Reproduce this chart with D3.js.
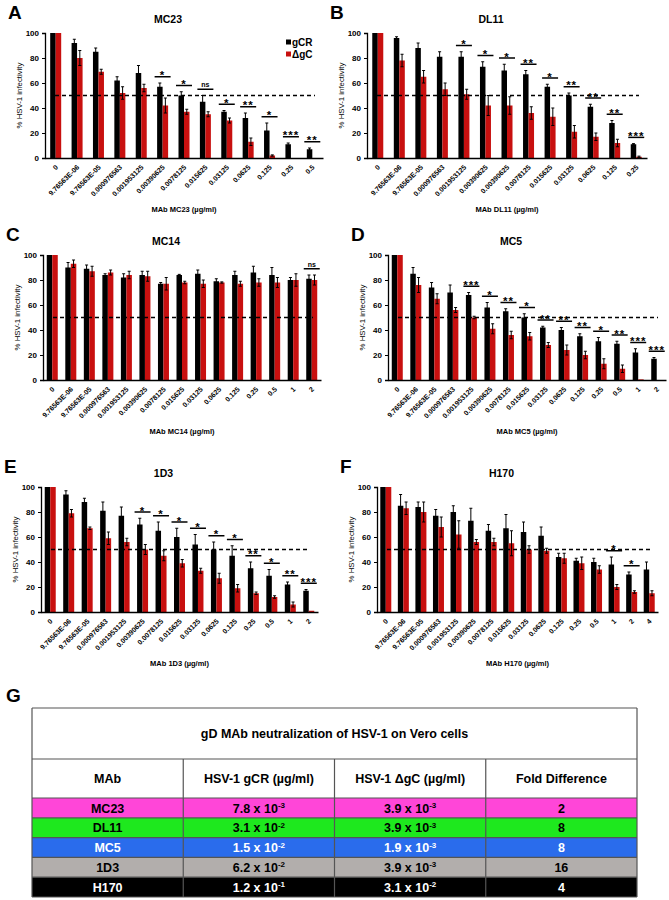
<!DOCTYPE html>
<html>
<head>
<meta charset="utf-8">
<script src="https://cdn.jsdelivr.net/npm/d3@7"></script>
<style>
  body { margin: 0; background: #fff; }
  svg text { font-family: "Liberation Sans", Arial, sans-serif; }
</style>
</head>
<body>
<svg id="fig" width="669" height="900"></svg>
<script>
// ---- dose (x) labels ----
var dosesA = ["0","9.76563E-06","9.76563E-05","0.000976563","0.001953125","0.00390625","0.0078125","0.015625","0.03125","0.0625","0.125","0.25","0.5"];
var dosesB = ["0","9.76563E-06","9.76563E-05","0.000976563","0.001953125","0.00390625","0.00390625","0.0078125","0.015625","0.03125","0.0625","0.125","0.25"];
var dosesCDE = ["0","9.76563E-06","9.76563E-05","0.000976563","0.001953125","0.00390625","0.0078125","0.015625","0.03125","0.0625","0.125","0.25","0.5","1","2"];
var dosesF = ["0","9.76563E-06","9.76563E-05","0.000976563","0.001953125","0.00390625","0.0078125","0.015625","0.03125","0.0625","0.125","0.25","0.5","1","2","4"];

// ---- MC23 ----
var mc23Gcr    = [100, 92, 85, 62, 68, 57, 50, 45, 37, 32, 22, 11, 7];
var mc23GcrErr = [0, 3, 3, 3, 6, 3, 3, 5, 1, 4, 6, 1, 1];
var mc23Dgc    = [100, 80, 69, 52, 56, 42, 37, 35, 30, 13, 2, 0, 0];
var mc23DgcErr = [0, 6, 2, 5, 3, 6, 2, 2, 2, 3, 0.5, 0, 0];
var mc23Sig    = ["","","","","","*","*","ns","*","**","*","***","**"];

// ---- DL11 ----
var dl11Gcr    = [100, 96, 88, 81, 81, 73, 70, 67, 57, 50, 41, 28, 11];
var dl11GcrErr = [0, 1, 4, 4, 4, 4, 5, 3, 2, 2, 2, 2, 0.5];
var dl11Dgc    = [100, 78, 65, 55, 51, 42, 42, 36, 33, 21, 17, 12, 1];
var dl11DgcErr = [0, 5, 5, 5, 4, 8, 7, 5, 7, 5, 3, 3, 0.5];
var dl11Sig    = ["","","","","*","*","*","**","*","**","**","**","***"];

// ---- MC14 ----
var mc14Gcr    = [100, 90, 89, 84, 82, 84, 77, 84, 85, 79, 84, 86, 84, 80, 81];
var mc14GcrErr = [0, 4, 3, 1, 3, 3, 1, 0.5, 3, 2, 3, 5, 6, 2, 3];
var mc14Dgc    = [100, 93, 87, 86, 84, 83, 77, 78, 77, 78, 77, 78, 78, 80, 80];
var mc14DgcErr = [0, 3, 4, 2, 3, 4, 5, 1, 3, 0.5, 2, 3, 4, 5, 4];
var mc14Sig    = ["","","","","","","","","","","","","","","ns"];

// ---- MC5 ----
var mc5Gcr    = [100, 85, 74, 70, 68, 58, 55, 50, 42, 40, 35, 31, 29, 22, 17];
var mc5GcrErr = [0, 5, 4, 6, 2, 4, 2, 3, 1, 2, 2, 3, 2, 3, 1];
var mc5Dgc    = [100, 76, 65, 56, 50, 41, 36, 35, 28, 24, 20, 13, 9, 0.5, 0];
var mc5DgcErr = [0, 6, 4, 2, 1, 4, 3, 3, 2, 4, 3, 4, 3, 0, 0];
var mc5Sig    = ["","","","","***","*","**","*","**","**","**","*","**","***","***"];

// ---- 1D3 ----
var d13Gcr    = [100, 94, 88, 81, 77, 70, 65, 60, 54, 50, 45, 35, 29, 22, 17];
var d13GcrErr = [0, 3, 3, 7, 7, 5, 7, 7, 8, 6, 8, 5, 5, 2, 1];
var d13Dgc    = [100, 79, 67, 59, 56, 50, 45, 39, 33, 27, 19, 15, 12, 6, 1];
var d13DgcErr = [0, 3, 1, 5, 3, 4, 4, 3, 2, 4, 3, 1, 1, 2, 0];
var d13Sig    = ["","","","","","*","*","*","*","*","*","**","*","**","***"];

// ---- H170 ----
var h170Gcr    = [100, 85, 84, 77, 80, 73, 65, 67, 64, 61, 44, 41, 40, 38, 30, 34];
var h170GcrErr = [0, 9, 4, 5, 5, 10, 5, 11, 8, 7, 3, 2, 3, 6, 2, 6];
var h170Dgc    = [100, 83, 80, 68, 62, 56, 56, 55, 50, 49, 43, 39, 34, 20, 16, 15];
var h170DgcErr = [0, 5, 8, 8, 11, 2, 3, 10, 3, 2, 4, 5, 3, 2, 1, 2];
var h170Sig    = ["","","","","","","","","","","","","","*","*",""];

// ---- table G ----
var tableTitle = "gD MAb neutralization of HSV-1 on Vero cells";
var tableHeader = ["MAb", "HSV-1 gCR (µg/ml)", "HSV-1 ΔgC (µg/ml)", "Fold Difference"];
var tableMAb  = ["MC23", "DL11", "MC5", "1D3", "H170"];
var tableGcr  = [["7.8", "-3"], ["3.1", "-2"], ["1.5", "-2"], ["6.2", "-2"], ["1.2", "-1"]];
var tableDgc  = [["3.9", "-3"], ["3.9", "-3"], ["1.9", "-3"], ["3.9", "-3"], ["3.1", "-2"]];
var tableFold = [2, 8, 8, 16, 4];
var rowFill   = ["#ff46d8", "#1ee81e", "#2a6cec", "#b2aeac", "#000000"];
var rowText   = ["#000", "#000", "#fff", "#000", "#fff"];

var BLACK = "#000000", RED = "#c8100f";

var svg = d3.select("#fig");

var panels = [
  {letter: "A", title: "MC23", doses: dosesA, gcr: mc23Gcr, gcrErr: mc23GcrErr, dgc: mc23Dgc, dgcErr: mc23DgcErr, sig: mc23Sig, x0: 45, x1: 323, top: 33, bot: 158, legend: true},
  {letter: "B", title: "DL11", doses: dosesB, gcr: dl11Gcr, gcrErr: dl11GcrErr, dgc: dl11Dgc, dgcErr: dl11DgcErr, sig: dl11Sig, x0: 367, x1: 647, top: 33, bot: 158},
  {letter: "C", title: "MC14", doses: dosesCDE, gcr: mc14Gcr, gcrErr: mc14GcrErr, dgc: mc14Dgc, dgcErr: mc14DgcErr, sig: mc14Sig, x0: 43, x1: 321, top: 255, bot: 380},
  {letter: "D", title: "MC5", doses: dosesCDE, gcr: mc5Gcr, gcrErr: mc5GcrErr, dgc: mc5Dgc, dgcErr: mc5DgcErr, sig: mc5Sig, x0: 388, x1: 666, top: 255, bot: 380},
  {letter: "E", title: "1D3", doses: dosesCDE, gcr: d13Gcr, gcrErr: d13GcrErr, dgc: d13Dgc, dgcErr: d13DgcErr, sig: d13Sig, x0: 41, x1: 318, top: 487, bot: 612},
  {letter: "F", title: "H170", doses: dosesF, gcr: h170Gcr, gcrErr: h170GcrErr, dgc: h170Dgc, dgcErr: h170DgcErr, sig: h170Sig, x0: 377, x1: 658, top: 487, bot: 612}
];

function drawPanel(p) {
  var g = svg.append("g");
  var n = p.doses.length;
  var x = d3.scaleBand().domain(d3.range(n)).range([p.x0, p.x1]).padding(0);
  var y = d3.scaleLinear().domain([0, 100]).range([p.bot, p.top]);
  var bw = 5.5;
  var cx = function(i) { return x(i) + x.bandwidth() / 2; };

  var rows = d3.range(n).map(function(i) {
    return {i: i, gcr: p.gcr[i], gcrErr: p.gcrErr[i], dgc: p.dgc[i], dgcErr: p.dgcErr[i], sig: p.sig[i]};
  });

  // bars
  g.selectAll("rect.gcr").data(rows).enter().append("rect")
    .attr("class", "gcr")
    .attr("x", function(d) { return cx(d.i) - bw; })
    .attr("y", function(d) { return y(d.gcr); })
    .attr("width", bw)
    .attr("height", function(d) { return y(0) - y(d.gcr); })
    .attr("fill", BLACK);
  g.selectAll("rect.dgc").data(rows).enter().append("rect")
    .attr("class", "dgc")
    .attr("x", function(d) { return cx(d.i); })
    .attr("y", function(d) { return y(d.dgc); })
    .attr("width", bw)
    .attr("height", function(d) { return y(0) - y(d.dgc); })
    .attr("fill", RED);

  // error bars
  function errBars(key, ekey, off) {
    var eb = g.selectAll("g.eb-" + key).data(rows.filter(function(d) { return d[ekey] > 0; }))
      .enter().append("g").attr("class", "eb-" + key)
      .attr("stroke", "#000").attr("stroke-width", 1);
    eb.append("line")
      .attr("x1", function(d) { return cx(d.i) + off; })
      .attr("x2", function(d) { return cx(d.i) + off; })
      .attr("y1", function(d) { return y(Math.max(0, d[key] - d[ekey])); })
      .attr("y2", function(d) { return y(d[key] + d[ekey]); });
    eb.append("line")
      .attr("x1", function(d) { return cx(d.i) + off - 1.5; })
      .attr("x2", function(d) { return cx(d.i) + off + 1.5; })
      .attr("y1", function(d) { return y(d[key] + d[ekey]); })
      .attr("y2", function(d) { return y(d[key] + d[ekey]); });
    eb.append("line")
      .attr("x1", function(d) { return cx(d.i) + off - 1.5; })
      .attr("x2", function(d) { return cx(d.i) + off + 1.5; })
      .attr("y1", function(d) { return y(Math.max(0, d[key] - d[ekey])); })
      .attr("y2", function(d) { return y(Math.max(0, d[key] - d[ekey])); });
  }
  errBars("gcr", "gcrErr", -bw / 2);
  errBars("dgc", "dgcErr", bw / 2);

  // 50% reference line
  g.append("line")
    .attr("x1", p.x0 + 10).attr("x2", p.x1 - 8)
    .attr("y1", y(50)).attr("y2", y(50))
    .attr("stroke", "#000").attr("stroke-width", 1.4)
    .attr("stroke-dasharray", "4,3");

  // axes
  var ya = g.append("g").attr("transform", "translate(" + p.x0 + ",0)")
    .call(d3.axisLeft(y).tickValues([0, 20, 40, 60, 80, 100]).tickSize(3).tickPadding(3));
  ya.select(".domain").attr("stroke-width", 1.3);
  ya.selectAll("text").attr("font-size", 8).attr("font-weight", "bold").attr("font-family", "Liberation Sans, Arial");

  var xa = g.append("g").attr("transform", "translate(0," + p.bot + ")")
    .call(d3.axisBottom(x).tickSize(0).tickFormat(function(i) { return p.doses[i]; }));
  xa.select(".domain").attr("stroke-width", 1.3);
  xa.selectAll("text")
    .attr("font-size", 7).attr("font-weight", "bold").attr("font-family", "Liberation Sans, Arial")
    .attr("text-anchor", "end")
    .attr("x", 0).attr("y", 0).attr("dy", "0.35em")
    .attr("transform", "translate(1,8) rotate(-45)");

  // significance marks
  var sg = g.selectAll("g.sig").data(rows.filter(function(d) { return d.sig; }))
    .enter().append("g").attr("class", "sig");
  var sy = function(d) { return y(Math.max(d.gcr + d.gcrErr, d.dgc + d.dgcErr) + 5); };
  sg.append("line")
    .attr("x1", function(d) { return cx(d.i) - 8; })
    .attr("x2", function(d) { return cx(d.i) + 8; })
    .attr("y1", sy).attr("y2", sy)
    .attr("stroke", "#000").attr("stroke-width", 1.5);
  sg.append("text")
    .attr("x", function(d) { return cx(d.i); })
    .attr("y", function(d) { return sy(d) + (d.sig === "ns" ? -2 : 2.5); })
    .attr("text-anchor", "middle")
    .attr("font-size", function(d) { return d.sig === "ns" ? 7 : 11.5; })
    .attr("font-weight", "bold")
    .attr("fill", "#000")
    .attr("letter-spacing", function(d) { return d.sig === "ns" ? 0 : 1; })
    .text(function(d) { return d.sig; });

  // titles
  g.append("text").attr("x", (p.x0 + p.x1) / 2 - 16).attr("y", p.top - 10)
    .attr("text-anchor", "middle").attr("font-size", 10.5).attr("font-weight", "bold")
    .text(p.title);
  g.append("text").attr("x", p.x0 - 37).attr("y", p.top - 14)
    .attr("font-size", 19).attr("font-weight", "bold")
    .text(p.letter);
  g.append("text")
    .attr("transform", "translate(" + (p.x0 - 23) + "," + ((p.top + p.bot) / 2) + ") rotate(-90)")
    .attr("text-anchor", "middle").attr("font-size", 7.8)
    .text("% HSV-1 infectivity");
  g.append("text").attr("x", (p.x0 + p.x1) / 2).attr("y", p.bot + 54)
    .attr("text-anchor", "middle").attr("font-size", 7.5).attr("font-weight", "bold")
    .text("MAb " + p.title + " (µg/ml)");

  if (p.legend) {
    var lg = g.append("g").attr("transform", "translate(" + (p.x1 - 37) + "," + (p.top + 9) + ")");
    [["gCR", BLACK], ["ΔgC", RED]].forEach(function(s, k) {
      lg.append("rect").attr("x", 0).attr("y", k * 12 - 2.5).attr("width", 5).attr("height", 5).attr("fill", s[1]);
      lg.append("text").attr("x", 6).attr("y", k * 12 + 3.5).attr("font-size", 10).attr("font-weight", "bold").text(s[0]);
    });
  }
}

panels.forEach(drawPanel);

// ---- table G ----
svg.append("text").attr("x", 6).attr("y", 702).attr("font-size", 19).attr("font-weight", "bold").text("G");

var tL = 32, tR = 637;
var colX = d3.scaleLinear().domain([0, 4]).range([tL, tR]);
var rowY = d3.scaleLinear().domain([0, 5]).range([798, 897]);
var tb = svg.append("g");

// title row and header
tb.append("rect").attr("x", tL).attr("y", 708).attr("width", tR - tL).attr("height", 897 - 708).attr("fill", "#fff");
tb.append("text").attr("x", (tL + tR) / 2).attr("y", 738).attr("text-anchor", "middle")
  .attr("font-size", 12.5).attr("font-weight", "bold").text(tableTitle);
tb.selectAll("text.hdr").data(tableHeader).enter().append("text").attr("class", "hdr")
  .attr("x", function(d, i) { return (colX(i) + colX(i + 1)) / 2; })
  .attr("y", 783).attr("text-anchor", "middle")
  .attr("font-size", 12.5).attr("font-weight", "bold").text(function(d) { return d; });

// data rows
var rowsG = tb.selectAll("g.row").data(tableMAb).enter().append("g").attr("class", "row");
rowsG.append("rect")
  .attr("x", tL).attr("y", function(d, i) { return rowY(i); })
  .attr("width", tR - tL).attr("height", function(d, i) { return rowY(i + 1) - rowY(i); })
  .attr("fill", function(d, i) { return rowFill[i]; });

function cellText(sel, col, fn) {
  var t = sel.append("text")
    .attr("x", (colX(col) + colX(col + 1)) / 2)
    .attr("y", function(d, i) { return rowY(i) + 14.5; })
    .attr("text-anchor", "middle").attr("font-size", 12.5).attr("font-weight", "bold")
    .attr("fill", function(d, i) { return rowText[i]; });
  fn(t);
}
cellText(rowsG, 0, function(t) { t.text(function(d) { return d; }); });
[[1, tableGcr], [2, tableDgc]].forEach(function(c) {
  cellText(rowsG, c[0], function(t) {
    t.append("tspan").text(function(d, i) { return c[1][i][0] + " x 10"; });
    t.append("tspan").attr("dy", -4.5).attr("font-size", 8).text(function(d, i) { return c[1][i][1]; });
  });
});
cellText(rowsG, 3, function(t) { t.text(function(d, i) { return tableFold[i]; }); });

// grid lines
var gridColor = "#555";
[708, 759, 798].concat(d3.range(1, 5).map(rowY)).concat([897]).forEach(function(yy) {
  tb.append("line").attr("x1", tL).attr("x2", tR).attr("y1", yy).attr("y2", yy)
    .attr("stroke", gridColor).attr("stroke-width", 1.2);
});
[1, 2, 3].forEach(function(c) {
  tb.append("line").attr("x1", colX(c)).attr("x2", colX(c)).attr("y1", 759).attr("y2", 897)
    .attr("stroke", gridColor).attr("stroke-width", 1.2);
});
[tL, tR].forEach(function(xx) {
  tb.append("line").attr("x1", xx).attr("x2", xx).attr("y1", 708).attr("y2", 897)
    .attr("stroke", gridColor).attr("stroke-width", 1.2);
});
</script>
</body>
</html>
